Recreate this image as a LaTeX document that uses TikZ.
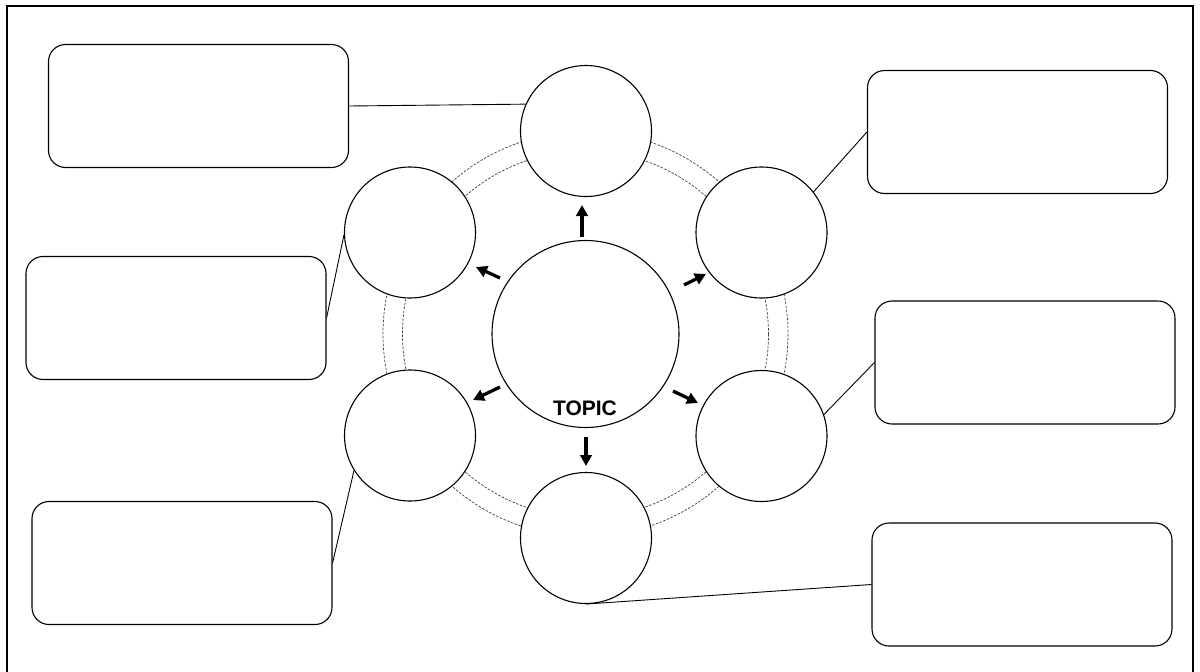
\documentclass[tikz,border=0pt]{standalone}
\usepackage{fontspec}
\setmainfont{Liberation Sans}
\usetikzlibrary{arrows.meta}
\begin{document}
\begin{tikzpicture}[x=1pt,y=-1pt,
  bubble/.style={circle,draw=black,line width=1.1pt,fill=white,inner sep=0pt,minimum size=131pt},
  hub/.style={circle,draw=black,line width=1.1pt,fill=white,inner sep=0pt,minimum size=187pt},
  note/.style={rounded corners=17pt,draw=black,line width=1.1pt,inner sep=0pt,minimum width=300pt,minimum height=123pt},
  ring/.style={draw=black!75,line width=0.7pt,dash pattern=on 2.5pt off 1.5pt},
  link/.style={draw=black,line width=0.9pt},
  push/.style={line width=3.3pt,-{Triangle[length=11pt,width=11.5pt]}}]
\useasboundingbox (0,0) rectangle (1200,672);
\draw[line width=2pt] (7,672) -- (7,6) -- (1193,6) -- (1193,672);
% rings
\coordinate (hubc) at (585.5,334);
\draw[ring] (hubc) circle[radius=183];
\draw[ring] (hubc) circle[radius=202.5];
% circles
\node[hub] (hub) at (hubc) {};
\node[bubble] (ctop) at (586,131) {};
\node[bubble] (cur) at (761.5,232.5) {};
\node[bubble] (clr) at (761.5,436) {};
\node[bubble] (cbot) at (586,538) {};
\node[bubble] (cll) at (410,435.5) {};
\node[bubble] (cul) at (410,232.5) {};
\node[anchor=base,font=\bfseries\fontsize{21}{24}\selectfont] (topic) at (585,415) {TOPIC};
% boxes
\node[note] (b1) at (198.5,106) {};
\node[note] (b2) at (1017.5,132) {};
\node[note] (b3) at (176,318) {};
\node[note] (b4) at (182,563) {};
\node[note] (b5) at (1025,362.5) {};
\node[note] (b6) at (1022,584.5) {};
% links
\draw[link] (b1.east) -- (ctop.156.6);
\draw[link] (b2.west) -- (cur.38.5);
\draw[link] (b3.east) -- (cul.182);
\draw[link] (b4.east) -- (cll.212.6);
\draw[link] (b5.west) -- (clr.19.6);
\draw[link] (b6.west) -- (cbot.270);
% arrows
\coordinate (a1s) at (582,237); \coordinate (a1e) at (582,205);
\coordinate (a2s) at (684,285); \coordinate (a2e) at (706,274);
\coordinate (a3s) at (673,391); \coordinate (a3e) at (698,403);
\coordinate (a4s) at (586,437); \coordinate (a4e) at (586,466);
\coordinate (a5s) at (500,387); \coordinate (a5e) at (473,400);
\coordinate (a6s) at (500,278); \coordinate (a6e) at (476,267);
\draw[push] (a1s) -- (a1e);
\draw[push] (a2s) -- (a2e);
\draw[push] (a3s) -- (a3e);
\draw[push] (a4s) -- (a4e);
\draw[push] (a5s) -- (a5e);
\draw[push] (a6s) -- (a6e);
\end{tikzpicture}
\end{document}
